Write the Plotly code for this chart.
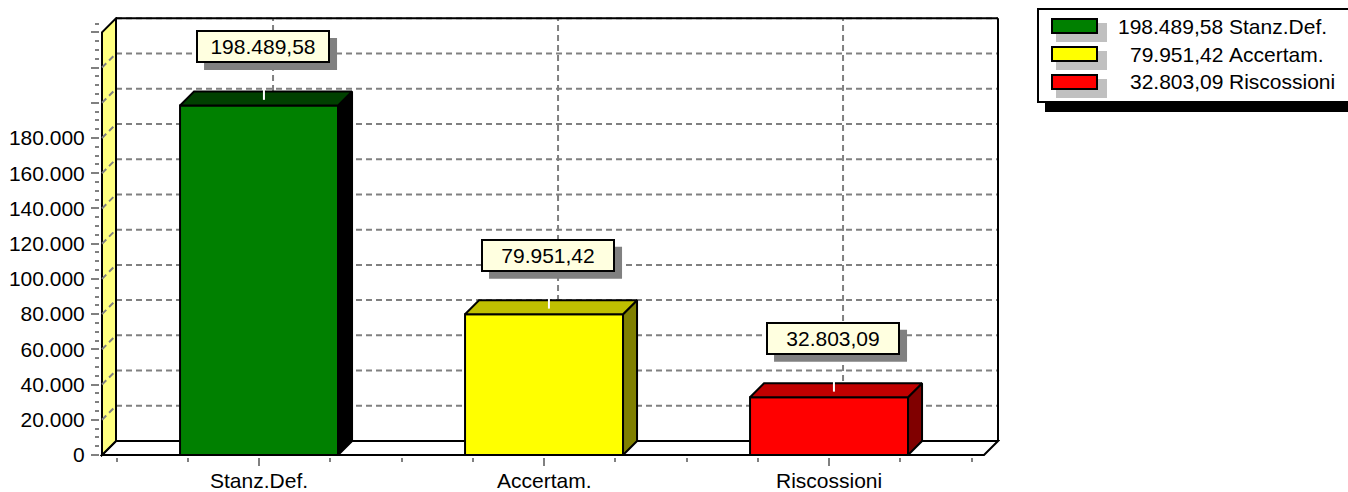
import plotly.graph_objects as go

# ---- data ----
categories = ["Stanz.Def.", "Accertam.", "Riscossioni"]
values = [198489.58, 79951.42, 32803.09]
front_colors = ["#008000", "#FFFF00", "#FF0000"]
top_colors = ["#004000", "#C0C000", "#C00000"]
side_colors = ["#000000", "#808000", "#800000"]
y_tick_vals = [0, 20000, 40000, 60000, 80000, 100000, 120000,
               140000, 160000, 180000, 200000, 220000, 240000]
y_tick_text = ["0", "20.000", "40.000", "60.000", "80.000", "100.000", "120.000",
               "140.000", "160.000", "180.000", "", "", ""]

FONT = "Liberation Sans, Arial, sans-serif"
W, H = 1348, 492
L, R, T, B = 100, 348, 17, 35
PW, PH = W - L - R, H - T - B

PX_PER_CAT = 285.0
PX_PER_VAL = 317.0 / 180000
DEPTH = 14  # px of the fake 3d offset

DX = DEPTH / PX_PER_CAT
DY = DEPTH / PX_PER_VAL
X0 = -0.551
X1 = X0 + 882 / PX_PER_CAT
Y_TOP = y_tick_vals[-1]
BAR_W = 158 / PX_PER_CAT

x_range = [X0 - 2 / PX_PER_CAT, X0 - 2 / PX_PER_CAT + PW / PX_PER_CAT]
y_range = [-2 / PX_PER_VAL, -2 / PX_PER_VAL + PH / PX_PER_VAL]

# value label box, in px relative to the top of the bar
BOX_W, BOX_H = 132, 31
BOX_DX, BOX_DY = 4, 59


def fmt_it(v):
    return f"{v:,.2f}".replace(",", "X").replace(".", ",").replace("X", ".")


def poly(pts):
    return "M " + " L ".join(f"{x},{y}" for x, y in pts) + " Z"


def px_x(px):
    return (px - L) / PW


def px_y(py):
    return (H - B - py) / PH


grid = dict(color="#808080", width=2, dash="6px,4px")
black = dict(color="black", width=2)
shapes = []

# back wall + gridlines
shapes.append(dict(type="rect", xref="x", yref="y", x0=X0 + DX, x1=X1 + DX,
                   y0=DY, y1=Y_TOP + DY, fillcolor="white", line_width=0, layer="below"))
for v in y_tick_vals[1:]:
    shapes.append(dict(type="line", xref="x", yref="y", x0=X0 + DX, x1=X1 + DX,
                       y0=v + DY, y1=v + DY, line=grid, layer="below"))
for i in range(len(categories)):
    shapes.append(dict(type="line", xref="x", yref="y", x0=i + DX, x1=i + DX,
                       y0=DY, y1=Y_TOP + DY, line=grid, layer="below"))

# floor
shapes.append(dict(type="path", xref="x", yref="y", layer="below", fillcolor="white", line=black,
                   path=poly([(X0, 0), (X1, 0), (X1 + DX, DY), (X0 + DX, DY)])))
# left wall
shapes.append(dict(type="path", xref="x", yref="y", layer="below", fillcolor="#FFFF80", line=black,
                   path=poly([(X0, 0), (X0, Y_TOP), (X0 + DX, Y_TOP + DY), (X0 + DX, DY)])))
for v in y_tick_vals[1:-1]:
    shapes.append(dict(type="line", xref="x", yref="y", x0=X0, x1=X0 + DX,
                       y0=v, y1=v + DY, line=grid, layer="below"))
# back wall border
shapes.append(dict(type="line", xref="x", yref="y", x0=X0 + DX, x1=X1 + DX,
                   y0=Y_TOP + DY, y1=Y_TOP + DY, line=black, layer="below"))
shapes.append(dict(type="line", xref="x", yref="y", x0=X1 + DX, x1=X1 + DX,
                   y0=DY, y1=Y_TOP + DY, line=black, layer="below"))

# legend box
shapes.append(dict(type="rect", xref="paper", yref="paper", x0=px_x(1045), x1=px_x(1360),
                   y0=px_y(112), y1=px_y(103), fillcolor="black", line_width=0))
shapes.append(dict(type="rect", xref="paper", yref="paper", x0=px_x(1038), x1=px_x(1360),
                   y0=px_y(102), y1=px_y(9), fillcolor="white", line=black))

fig = go.Figure()
fig.add_trace(go.Bar(
    x=list(range(len(categories))), y=values, width=BAR_W,
    marker=dict(color=front_colors, line=dict(color="black", width=2)),
    hoverinfo="skip", showlegend=False,
))

annotations = []
for i, (v, top_c, side_c) in enumerate(zip(values, top_colors, side_colors)):
    xl, xr = i - BAR_W / 2, i + BAR_W / 2
    fig.add_trace(go.Scatter(
        x=[xr, xr + DX, xr + DX, xr, xr], y=[0, DY, v + DY, v, 0],
        mode="lines", fill="toself", fillcolor=side_c,
        line=dict(color="black", width=2), hoverinfo="skip", showlegend=False,
    ))
    fig.add_trace(go.Scatter(
        x=[xl, xl + DX, xr + DX, xr, xl], y=[v, v + DY, v + DY, v, v],
        mode="lines", fill="toself", fillcolor=top_c,
        line=dict(color="black", width=2), hoverinfo="skip", showlegend=False,
    ))
    # white leader from label to bar
    lx = i + DX * 0.35
    fig.add_trace(go.Scatter(
        x=[lx, lx], y=[v + DY * 0.4, v + (BOX_DY - BOX_H / 2) / PX_PER_VAL],
        mode="lines", line=dict(color="white", width=2),
        hoverinfo="skip", showlegend=False,
    ))

    # label shadow (grey box, offset down-right)
    shapes.append(dict(type="rect", xref="x", yref="y", xsizemode="pixel", ysizemode="pixel",
                       xanchor=i, yanchor=v,
                       x0=BOX_DX - BOX_W / 2 + 7, x1=BOX_DX + BOX_W / 2 + 8,
                       y0=BOX_DY - BOX_H / 2 - 8, y1=BOX_DY + BOX_H / 2 - 7,
                       fillcolor="#808080", line_width=0))
    label = fmt_it(v)
    annotations.append(dict(
        x=i, y=v, xref="x", yref="y", xshift=BOX_DX, yshift=BOX_DY, showarrow=False,
        text=label, font=dict(size=21, color="black", family=FONT),
        bgcolor="#FFFFE0", bordercolor="black", borderwidth=2, borderpad=1,
        width=BOX_W - 4, height=BOX_H - 4,
    ))

    # category label under the axis
    annotations.append(dict(
        x=i, y=px_y(480), xref="x", yref="paper", yanchor="middle", showarrow=False,
        text=categories[i], font=dict(size=21, color="black", family=FONT),
    ))

    # legend row
    top = 19 + 28 * i
    shapes.append(dict(type="rect", xref="paper", yref="paper", x0=px_x(1056), x1=px_x(1107),
                       y0=px_y(top + 23), y1=px_y(top + 4), fillcolor="#C0C0C0", line_width=0))
    shapes.append(dict(type="rect", xref="paper", yref="paper", x0=px_x(1052), x1=px_x(1097),
                       y0=px_y(top + 14), y1=px_y(top), fillcolor=front_colors[i], line=black))
    annotations.append(dict(
        x=px_x(1225), y=px_y(top + 7), xref="paper", yref="paper", xanchor="right",
        yanchor="middle", showarrow=False, text=label,
        font=dict(size=21, color="black", family=FONT),
    ))
    annotations.append(dict(
        x=px_x(1227), y=px_y(top + 7), xref="paper", yref="paper", xanchor="left",
        yanchor="middle", showarrow=False, text=categories[i],
        font=dict(size=21, color="black", family=FONT),
    ))

fig.update_layout(
    width=W, height=H,
    margin=dict(l=L, r=R, t=T, b=B, pad=0, autoexpand=False),
    paper_bgcolor="white", plot_bgcolor="white",
    showlegend=False,
    font=dict(family=FONT, size=21, color="black"),
    shapes=shapes, annotations=annotations,
)
fig.update_xaxes(
    range=x_range, tickmode="array", tickvals=list(range(len(categories))),
    showticklabels=False,
    ticks="outside", ticklen=8, tickwidth=1.5, tickcolor="#808080",
    minor=dict(tickmode="linear", tick0=-0.5, dtick=0.25, ticks="outside", ticklen=4,
               tickwidth=1.5, tickcolor="#808080", showgrid=False),
    showgrid=False, zeroline=False, showline=False, fixedrange=True, automargin=False,
)
fig.update_yaxes(
    range=y_range, tickmode="array", tickvals=y_tick_vals, ticktext=y_tick_text,
    ticks="outside", ticklen=8, tickwidth=1.5, tickcolor="#808080",
    minor=dict(tickmode="linear", tick0=0, dtick=5000, ticks="outside", ticklen=4,
               tickwidth=1.5, tickcolor="#808080", showgrid=False),
    showgrid=False, zeroline=False, showline=False, fixedrange=True, automargin=False,
    tickfont=dict(size=21, color="black"), ticklabelstandoff=2,
)

fig.write_html("out.html", config={"displayModeBar": False},
               post_script="document.body.style.margin='0';")
